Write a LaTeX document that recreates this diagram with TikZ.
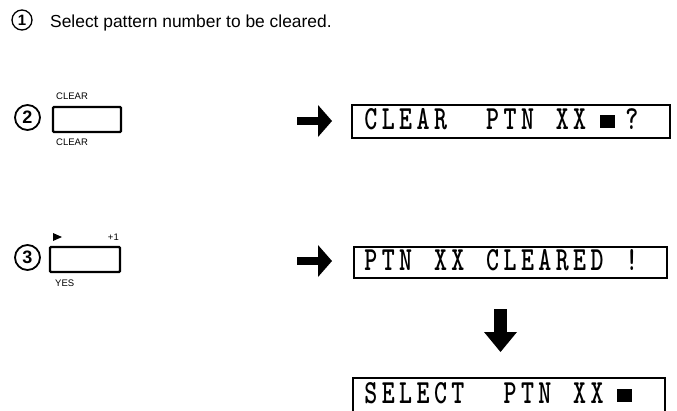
\documentclass[tikz,border=0pt]{standalone}
\usepackage{fontspec}
\setmainfont{Liberation Sans}
\newlength\lcdp \setlength\lcdp{17.4pt}
\def\lcd#1{\lcdloop#1\relax}
\def\lcdloop#1{\ifx\relax#1\else\makebox[\lcdp][c]{\scalebox{0.95}[1.3]{#1}}\expandafter\lcdloop\fi}
\begin{document}
\begin{tikzpicture}[x=1pt,y=-1pt,
  lcdbox/.style={draw, line width=1.6pt, inner sep=0pt},
  lcdtext/.style={inner sep=0pt, anchor=base west, font=\fontsize{26}{26}\selectfont\ttfamily\bfseries},
  keybox/.style={draw, line width=2.4pt, rounded corners=1pt, inner sep=0pt},
  small/.style={font=\fontsize{9.5}{10}\selectfont, inner sep=0pt},
  num/.style={circle, draw, line width=1.8pt, inner sep=0pt, minimum size=25pt, font=\fontsize{18}{18}\selectfont\bfseries},
  blk/.style={fill=black}]
\useasboundingbox (0,0) rectangle (677,410);
\clip (0,0) rectangle (677,410);
% step 1
\node[circle, draw, line width=1.3pt, inner sep=0pt, minimum size=20pt, font=\fontsize{15}{15}\selectfont\bfseries] (n1) at (22,20) {1};
\node[anchor=base west, inner sep=0pt, font=\fontsize{17.4}{18}\selectfont] (t1) at (50,27.5) {Select pattern number to be cleared.};
% step 2
\node[num] (n2) at (27.5,117.5) {2};
\node[keybox, minimum width=68pt, minimum height=25pt] (k2) at (87,119.5) {};
\node[small, anchor=base west] (k2a) at (56,99) {CLEAR};
\node[small, anchor=base west] (k2b) at (56,145) {CLEAR};
\fill[blk] (297,117) rectangle (318,125);
\fill[blk] (318,105) -- (332,121) -- (318,137) -- cycle;
\node[lcdbox, minimum width=318pt, minimum height=33pt] (d1) at (511,121.5) {};
\node[lcdtext] (d1t) at (362,129) {\lcd{CLEAR~~PTN~XX~~?}};
\fill[blk] (600,115) rectangle (615,128);
% step 3
\node[num] (n3) at (27.5,257.5) {3};
\node[keybox, minimum width=70pt, minimum height=25pt] (k3) at (85,259.5) {};
\fill[blk] (53,233) -- (53,241) -- (62,237) -- cycle;
\node[small, anchor=base east] (k3p) at (119,240) {+1};
\node[small, anchor=base west] (k3y) at (55,286) {YES};
\fill[blk] (297,257) rectangle (318,265);
\fill[blk] (318,245) -- (332,261) -- (318,277) -- cycle;
\node[lcdbox, minimum width=313pt, minimum height=31pt] (d2) at (510.5,262.5) {};
\node[lcdtext] (d2t) at (362,270) {\lcd{PTN~XX~CLEARED~!}};
% down arrow
\fill[blk] (494,309) rectangle (507,333);
\fill[blk] (484,332) -- (517,332) -- (500.5,352) -- cycle;
% final display
\node[lcdbox, minimum width=312pt, minimum height=37pt] (d3) at (509,396.5) {};
\node[lcdtext] (d3t) at (362,403) {\lcd{SELECT~~PTN~XX}};
\fill[blk] (617,389) rectangle (632,402);
\end{tikzpicture}
\end{document}
